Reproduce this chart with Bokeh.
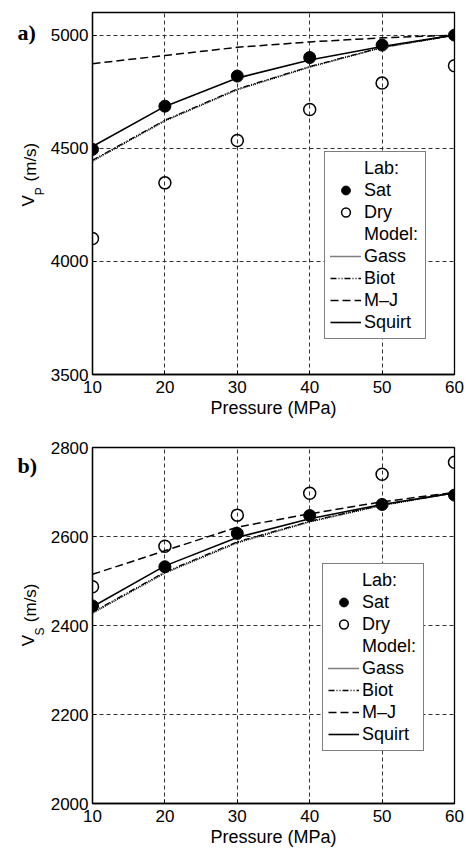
import math
from bokeh.plotting import figure
from bokeh.models import Range1d, FixedTicker, Legend, LegendItem
from bokeh.core.properties import value
from bokeh.layouts import column, row
from bokeh.embed import file_html
from bokeh.resources import INLINE

# ---------------- data ----------------
pressure = [10, 20, 30, 40, 50, 60]

vp_sat = [4495, 4686, 4819, 4901, 4956, 5000]
vp_dry = [4101, 4347, 4534, 4671, 4788, 4865]
vp_gass = [4444, 4621, 4759, 4859, 4945, 5000]
vp_biot = [4447, 4624, 4762, 4861, 4946, 5000]
vp_mj = [4874, 4910, 4946, 4970, 4988, 5000]
vp_squirt = [4508, 4685, 4810, 4890, 4950, 5000]

vs_sat = [2444, 2532, 2607, 2647, 2672, 2693]
vs_dry = [2487, 2578, 2648, 2697, 2740, 2767]
vs_gass = [2428, 2518, 2586, 2633, 2670, 2698]
vs_biot = [2430, 2520, 2588, 2634, 2671, 2698]
vs_mj = [2515, 2568, 2621, 2651, 2678, 2699]
vs_squirt = [2442, 2534, 2598, 2640, 2672, 2698]

x_ticks = [10, 20, 30, 40, 50, 60]
vp_ticks = [3500, 4000, 4500, 5000]
vs_ticks = [2000, 2200, 2400, 2600, 2800]

legend_labels = ["Lab:", "Sat", "Dry", "Model:", "Gass", "Biot", "M\u2013J", "Squirt"]

FONT = "Liberation Sans"
LEFT_W = 46
MAIN_W = 420


def make_panel(height, top_border, frame_h, yrange, yticks, sat, dry, gass, biot, mj, squirt,
               legend_loc):
    p = figure(width=MAIN_W, height=height, output_backend="svg", toolbar_location=None,
               x_range=Range1d(10, 60), y_range=Range1d(*yrange),
               min_border_left=92 - LEFT_W, min_border_right=12, min_border_top=top_border,
               min_border_bottom=height - top_border - frame_h)
    p.background_fill_color = "white"
    p.border_fill_color = "white"
    p.outline_line_color = "black"
    p.outline_line_width = 1.3
    p.xaxis.ticker = FixedTicker(ticks=x_ticks)
    p.yaxis.ticker = FixedTicker(ticks=yticks)
    for ax in (p.xaxis[0], p.yaxis[0]):
        ax.major_label_text_font = FONT
        ax.major_label_text_font_size = "17px"
        ax.major_label_text_color = "black"
        ax.axis_line_color = "black"
        ax.axis_line_width = 1.3
        ax.major_tick_in = 4
        ax.major_tick_out = 0
        ax.major_tick_line_color = "black"
        ax.minor_tick_line_color = None
    p.xaxis.major_label_standoff = 6
    p.yaxis.major_label_standoff = 4
    p.xaxis.axis_label = "Pressure (MPa)"
    p.xaxis.axis_label_text_font = FONT
    p.xaxis.axis_label_text_font_size = "18px"
    p.xaxis.axis_label_text_font_style = "normal"
    p.xaxis.axis_label_text_color = "black"
    p.xaxis.axis_label_standoff = 2
    p.grid.grid_line_color = "#333333"
    p.grid.grid_line_dash = "4 3"
    p.grid.grid_line_width = 1

    r_gass = p.line(pressure, gass, line_color="black", line_width=1.6, line_dash="1 1")
    r_biot = p.line(pressure, biot, line_color="black", line_width=1.3, line_dash="6 2 1 2 1 2")
    r_mj = p.line(pressure, mj, line_color="black", line_width=1.5, line_dash="8 4")
    r_squirt = p.line(pressure, squirt, line_color="black", line_width=1.6)
    r_dry = p.scatter(pressure, dry, size=12, fill_color=None, line_color="black", line_width=1.5)
    r_sat = p.scatter(pressure, sat, size=12, fill_color="black", line_color="black")
    r_h1 = p.scatter(x=[], y=[], alpha=0)
    r_h2 = p.scatter(x=[], y=[], alpha=0)

    rends = [r_h1, r_sat, r_dry, r_h2, r_gass, r_biot, r_mj, r_squirt]
    items = [LegendItem(label=lab, renderers=[r]) for lab, r in zip(legend_labels, rends)]
    leg = Legend(items=items, location=legend_loc, margin=0, padding=5, spacing=0,
                 glyph_width=31, glyph_height=22, label_height=22, label_width=56,
                 label_standoff=3, label_text_font=FONT, label_text_font_size="18px",
                 label_text_color="black", border_line_color="black", border_line_width=1.5,
                 background_fill_color="white", background_fill_alpha=1.0)
    p.add_layout(leg)
    return p


def make_side(height, frame_top, frame_h, tag, tag_base, sub):
    """Narrow figure holding the panel tag and the rotated y-axis title."""
    f = figure(width=LEFT_W, height=height, output_backend="svg", toolbar_location=None,
               x_range=Range1d(0, LEFT_W), y_range=Range1d(0, height),
               min_border=0, x_axis_location=None, y_axis_location=None)
    f.outline_line_color = None
    f.grid.visible = False
    f.background_fill_color = "white"
    f.border_fill_color = "white"
    mid = frame_top + frame_h / 2.0  # from top
    f.text(x=[28], y=[height - (mid + 32)], text=["V"], angle=math.pi / 2,
           text_font=value(FONT), text_font_size="17px", text_color="black",
           text_align="left", text_baseline="alphabetic")
    f.text(x=[39.5], y=[height - (mid + 19)], text=[sub], angle=math.pi / 2,
           text_font=value(FONT), text_font_size="12px", text_color="black",
           text_align="left", text_baseline="alphabetic")
    f.text(x=[29.5], y=[height - (mid + 3)], text=["(m/s)"], angle=math.pi / 2,
           text_font=value(FONT), text_font_size="17px", text_color="black",
           text_align="left", text_baseline="alphabetic")
    f.text(x=[17], y=[height - tag_base], text=[tag],
           text_font=value("Liberation Serif"), text_font_size="22px",
           text_font_style="bold", text_color="black",
           text_align="left", text_baseline="alphabetic")
    return f


pa = make_panel(420, 12, 362, (3500, 5100), vp_ticks, vp_sat, vp_dry, vp_gass, vp_biot, vp_mj,
                vp_squirt, (232, 35))
pb = make_panel(429, 27, 361, (2000, 2800), vs_ticks, vs_sat, vs_dry, vs_gass, vs_biot, vs_mj,
                vs_squirt, (230, 52))
la = make_side(420, 12, 362, "a)", 23, "P")
lb = make_side(429, 27, 361, "b)", 22, "S")

layout = column(row(la, pa, spacing=0), row(lb, pb, spacing=0), spacing=0)
open("out.html", "w").write(file_html(layout, INLINE))
